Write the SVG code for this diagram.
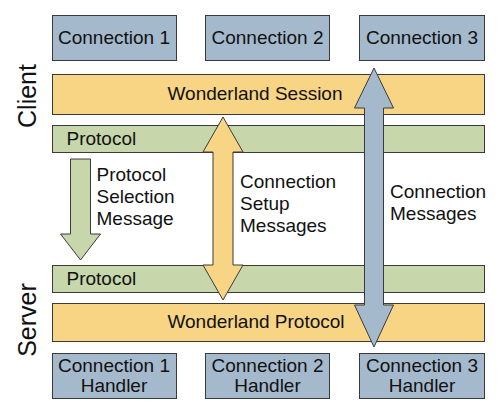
<svg xmlns="http://www.w3.org/2000/svg" width="500" height="419" viewBox="0 0 500 419">
<style>
text{font-family:"Liberation Sans",Arial,sans-serif;font-size:19px;fill:#111}
.c{text-anchor:middle}
.side{font-size:25px}
.blue{fill:#a5b9cd;stroke:#3a3a3a;stroke-width:1}
.yel{fill:#f7d584;stroke:#3a3a3a;stroke-width:1}
.grn{fill:#c7d7ab;stroke:#3a3a3a;stroke-width:1}
</style>
<rect width="500" height="419" fill="#fff"/>
<text class="side c" transform="translate(35.5,96) rotate(-90)">Client</text>
<text class="side c" transform="translate(35.5,320) rotate(-90)">Server</text>
<g id="conn1"><rect class="blue" x="52.5" y="15.5" width="124" height="45"/><text class="c" x="114" y="44">Connection 1</text></g>
<g id="conn2"><rect class="blue" x="205.5" y="15.5" width="124" height="45"/><text class="c" x="267.5" y="44">Connection 2</text></g>
<g id="conn3"><rect class="blue" x="359.5" y="15.5" width="125" height="45"/><text class="c" x="422" y="44">Connection 3</text></g>
<g id="session"><rect class="yel" x="52.5" y="74.5" width="432" height="40"/><text class="c" x="255" y="100">Wonderland Session</text></g>
<g id="protocol-client"><rect class="grn" x="52.5" y="125.5" width="432" height="27"/><text x="66.5" y="145">Protocol</text></g>
<g id="protocol-server"><rect class="grn" x="52.5" y="265.5" width="432" height="27"/><text x="66.5" y="284.5">Protocol</text></g>
<g id="wprotocol"><rect class="yel" x="52.5" y="303.5" width="432" height="38"/><text class="c" x="256" y="328">Wonderland Protocol</text></g>
<g id="handler1"><rect class="blue" x="52.5" y="353.5" width="124" height="45"/><text class="c" x="114" y="372">Connection 1</text><text class="c" x="114" y="392">Handler</text></g>
<g id="handler2"><rect class="blue" x="205.5" y="353.5" width="124" height="45"/><text class="c" x="267.5" y="372">Connection 2</text><text class="c" x="267.5" y="392">Handler</text></g>
<g id="handler3"><rect class="blue" x="359.5" y="353.5" width="125" height="45"/><text class="c" x="422" y="372">Connection 3</text><text class="c" x="422" y="392">Handler</text></g>
<g id="connectors">
<path class="grn" d="M70.5,159 L90.5,159 L90.5,234 L100.5,234 L80.5,260 L60.5,234 L70.5,234 Z"/>
<path class="yel" d="M223,117 L243,152 L233,152 L233,265 L243,265 L223,300 L203,265 L213,265 L213,152 L203,152 Z"/>
<path class="blue" d="M374,68 L393.5,108 L383.5,108 L383.5,305 L393.5,305 L374,347 L354.5,305 L364.5,305 L364.5,108 L354.5,108 Z"/>
<text x="96.5" y="181">Protocol</text><text x="96.5" y="203">Selection</text><text x="96.5" y="225">Message</text>
<text x="240" y="187.5">Connection</text><text x="240" y="209.5">Setup</text><text x="240" y="231.5">Messages</text>
<text x="390" y="198">Connection</text><text x="390" y="220">Messages</text>
</g>
</svg>
